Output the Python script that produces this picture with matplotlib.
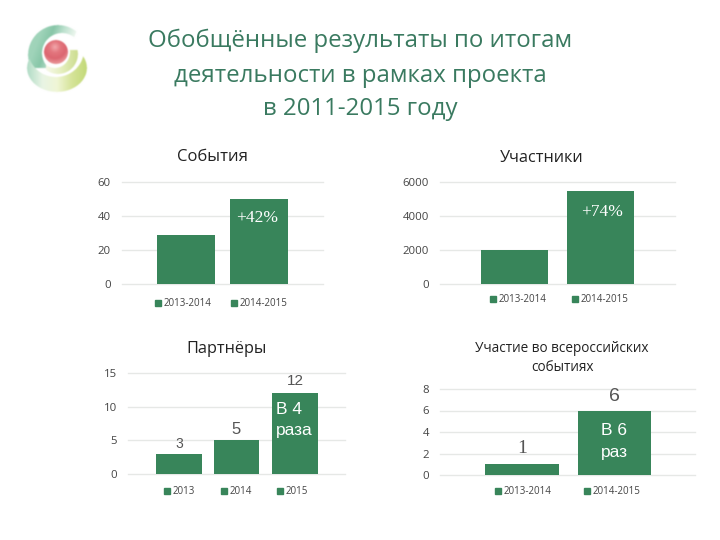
import numpy as np
import matplotlib
matplotlib.use("Agg")
import matplotlib.pyplot as plt

WIDTH, HEIGHT = 720, 540

title_lines = ["Обобщённые результаты по итогам",
               "деятельности в рамках проекта",
               "в 2011-2015 году"]

events_labels = ["2013-2014", "2014-2015"]
events_values = [29, 50]
events_ticks = [0, 20, 40, 60]

people_labels = ["2013-2014", "2014-2015"]
people_values = [2000, 5500]
people_ticks = [0, 2000, 4000, 6000]

partner_labels = ["2013", "2014", "2015"]
partner_values = [3, 5, 12]
partner_ticks = [0, 5, 10, 15]

russia_labels = ["2013-2014", "2014-2015"]
russia_values = [1, 6]
russia_ticks = [0, 2, 4, 6, 8]

GREEN = "#38855a"
TITLE_GREEN = "#3a7a60"
GRID = "#e6e8e6"
TICK = "#444444"
VALUE = "#555555"

plt.rcParams["font.family"] = ["Open Sans", "DejaVu Sans"]

fig = plt.figure(figsize=(WIDTH / 100, HEIGHT / 100), dpi=100, facecolor="white")


def bar_chart(box, bar_edges, labels, values, ticks, legend_x, legend_y):
    left, right, top, bottom = box
    ax = fig.add_axes([left / WIDTH, 1 - bottom / HEIGHT,
                       (right - left) / WIDTH, (bottom - top) / HEIGHT])
    centers = [(a + b) / 2 for a, b in bar_edges]
    widths = [b - a for a, b in bar_edges]
    # x axis runs in slide pixels, so bars sit where they do in the picture
    ax.bar(centers, values, width=widths, color=GREEN, zorder=3)
    ax.set_xlim(left, right)
    ax.set_ylim(0, ticks[-1])
    ax.set_yticks(ticks)
    ax.set_xticks([])
    ax.tick_params(axis="y", length=0, labelsize=8.2, labelcolor=TICK, pad=8)
    ax.grid(axis="y", color=GRID, linewidth=1, zorder=0, clip_on=False)
    for s in ax.spines.values():
        s.set_visible(False)
    ax.patch.set_alpha(0)
    for lab, lx in zip(labels, legend_x):
        fig.add_artist(plt.Rectangle((lx / WIDTH, 1 - (legend_y + 3) / HEIGHT),
                                     6 / WIDTH, 6 / HEIGHT, color=GREEN,
                                     transform=fig.transFigure))
        fig.text((lx + 9) / WIDTH, 1 - legend_y / HEIGHT, lab, ha="left", va="center",
                 fontsize=7, color=TICK)
    return ax


def chart_title(text, x, y, size):
    fig.text(x / WIDTH, 1 - y / HEIGHT, text, ha="center", va="center",
             fontsize=size, color="#222222", linespacing=1.4)


ax1 = bar_chart((122, 323, 182, 284), [(157, 215), (230, 288)], events_labels, events_values,
                events_ticks, [155, 231], 303)
chart_title("События", 213, 157, 12)
ax1.text(257, 39, "+42%", color="white", fontsize=12.5, ha="center", va="center",
         family=["Liberation Serif"], zorder=4)

ax2 = bar_chart((440, 675, 182, 284), [(481, 548), (567, 634)], people_labels, people_values,
                people_ticks, [490, 572], 299)
chart_title("Участники", 542, 158, 11.7)
ax2.text(602, 4230, "+74%", color="white", fontsize=12.5, ha="center", va="center",
         family=["Liberation Serif"], zorder=4)

ax3 = bar_chart((128, 345, 373, 474), [(156, 202), (214, 259), (272, 318)], partner_labels,
                partner_values, partner_ticks, [164, 221, 277], 491)
chart_title("Партнёры", 227, 349, 11.7)
for x, v, size, lift in zip([179, 236, 295], partner_values, [10, 12, 11], [0.35, 0.45, 0.7]):
    ax3.text(x, v + lift, str(v), color=VALUE, fontsize=size, ha="center", va="bottom",
             family=["Liberation Sans"], zorder=4)
ax3.text(276, 9.65, "В 4", color="white", fontsize=12.5, ha="left", va="center",
         family=["Liberation Sans"], zorder=4)
ax3.text(276, 6.4, "раза", color="white", fontsize=12.5, ha="left", va="center",
         family=["Liberation Sans"], zorder=4)

ax4 = bar_chart((440, 695, 389, 475), [(485, 559), (578, 651)], russia_labels, russia_values,
                russia_ticks, [495, 584], 491)
chart_title("Участие во всероссийских\nсобытиях", 562, 358, 9.8)
ax4.text(522, 2.5, "1", color=VALUE, fontsize=14, ha="center", va="center",
         family=["Liberation Serif"], zorder=4)
ax4.text(614, 7.3, "6", color=VALUE, fontsize=14, ha="center", va="center",
         family=["Liberation Sans"], zorder=4)
ax4.text(614, 4.1, "В 6", color="white", fontsize=12.5, ha="center", va="center",
         family=["Liberation Sans"], zorder=4)
ax4.text(614, 2.05, "раз", color="white", fontsize=12.5, ha="center", va="center",
         family=["Liberation Sans"], zorder=4)

for line, y in zip(title_lines, [41, 76, 109]):
    fig.text(360 / WIDTH, 1 - y / HEIGHT, line, ha="center", va="center", fontsize=17.3,
             color=TITLE_GREEN)


# logo: soft shapes painted on a small raster, then blurred a little
def hex_rgb(c):
    return np.array([int(c[i:i + 2], 16) / 255 for i in (1, 3, 5)])


def ramp(t, colors):
    t = np.clip(t, 0, 1)
    stops = np.linspace(0, 1, len(colors))
    rgb = np.array([hex_rgb(c) for c in colors])
    return np.dstack([np.interp(t, stops, rgb[:, i]) for i in range(3)])


def blur(channel, radius=3):
    # blurring the distance from white keeps the raster edge white
    kernel = np.ones(radius * 2 + 1) / (radius * 2 + 1)
    ink = 1 - channel
    for axis in (0, 1):
        ink = np.apply_along_axis(lambda r: np.convolve(r, kernel, mode="same"), axis, ink)
    return 1 - ink


def ellipse(xx, yy, cx, cy, rx, ry):
    return ((xx - cx) / rx) ** 2 + ((yy - cy) / ry) ** 2 <= 1


x0, x1, y0, y1 = 15, 95, 15, 100
xx, yy = np.meshgrid(np.linspace(x0, x1, 320), np.linspace(y0, y1, 340))
canvas = np.ones(xx.shape + (3,))

swoosh = ellipse(xx, yy, 58, 55, 30, 30) & ~ellipse(xx, yy, 62, 53, 20, 20)
swoosh &= (yy < 68) & (xx < 79 - (yy - 25) * 7 / 18)
swoosh_t = (xx - 30) / 46 + (yy - 60) / 120
canvas[swoosh] = ramp(swoosh_t, ["#a0d4ba", "#88c6a8", "#bfe2d0", "#eaf5ec", "#f4f9f0"])[swoosh]

bowl = ellipse(xx, yy, 57, 68, 30, 24) & ~ellipse(xx, yy, 56, 50, 28, 27)
canvas[bowl] = ramp((xx - 28) / 58, ["#b4ddc8", "#e8f4e4", "#f0f6d6", "#d6e49a", "#c4da7a"])[bowl]

crescent = ellipse(xx, yy, 58, 54, 20, 20) & ~ellipse(xx, yy, 55, 52, 15, 16) & (yy > 50)
crescent &= (xx > 46)
canvas[crescent] = ramp((xx - 46) / 30, ["#f6f9ea", "#e6efc0", "#cfdf94"])[crescent]

ball = ellipse(xx, yy, 56, 52, 12, 12)
shade = np.hypot(xx - 55, yy - 47) / 17
canvas[ball] = ramp(shade, ["#f2a8ac", "#e3767e", "#dc6670", "#ea9a9c"])[ball]

canvas = np.dstack([blur(canvas[:, :, i]) for i in range(3)])
logo = fig.add_axes([x0 / WIDTH, 1 - y1 / HEIGHT, (x1 - x0) / WIDTH, (y1 - y0) / HEIGHT])
logo.imshow(np.clip(canvas, 0, 1), aspect="auto", interpolation="bilinear")
logo.axis("off")

fig.savefig("out.png", dpi=100)
